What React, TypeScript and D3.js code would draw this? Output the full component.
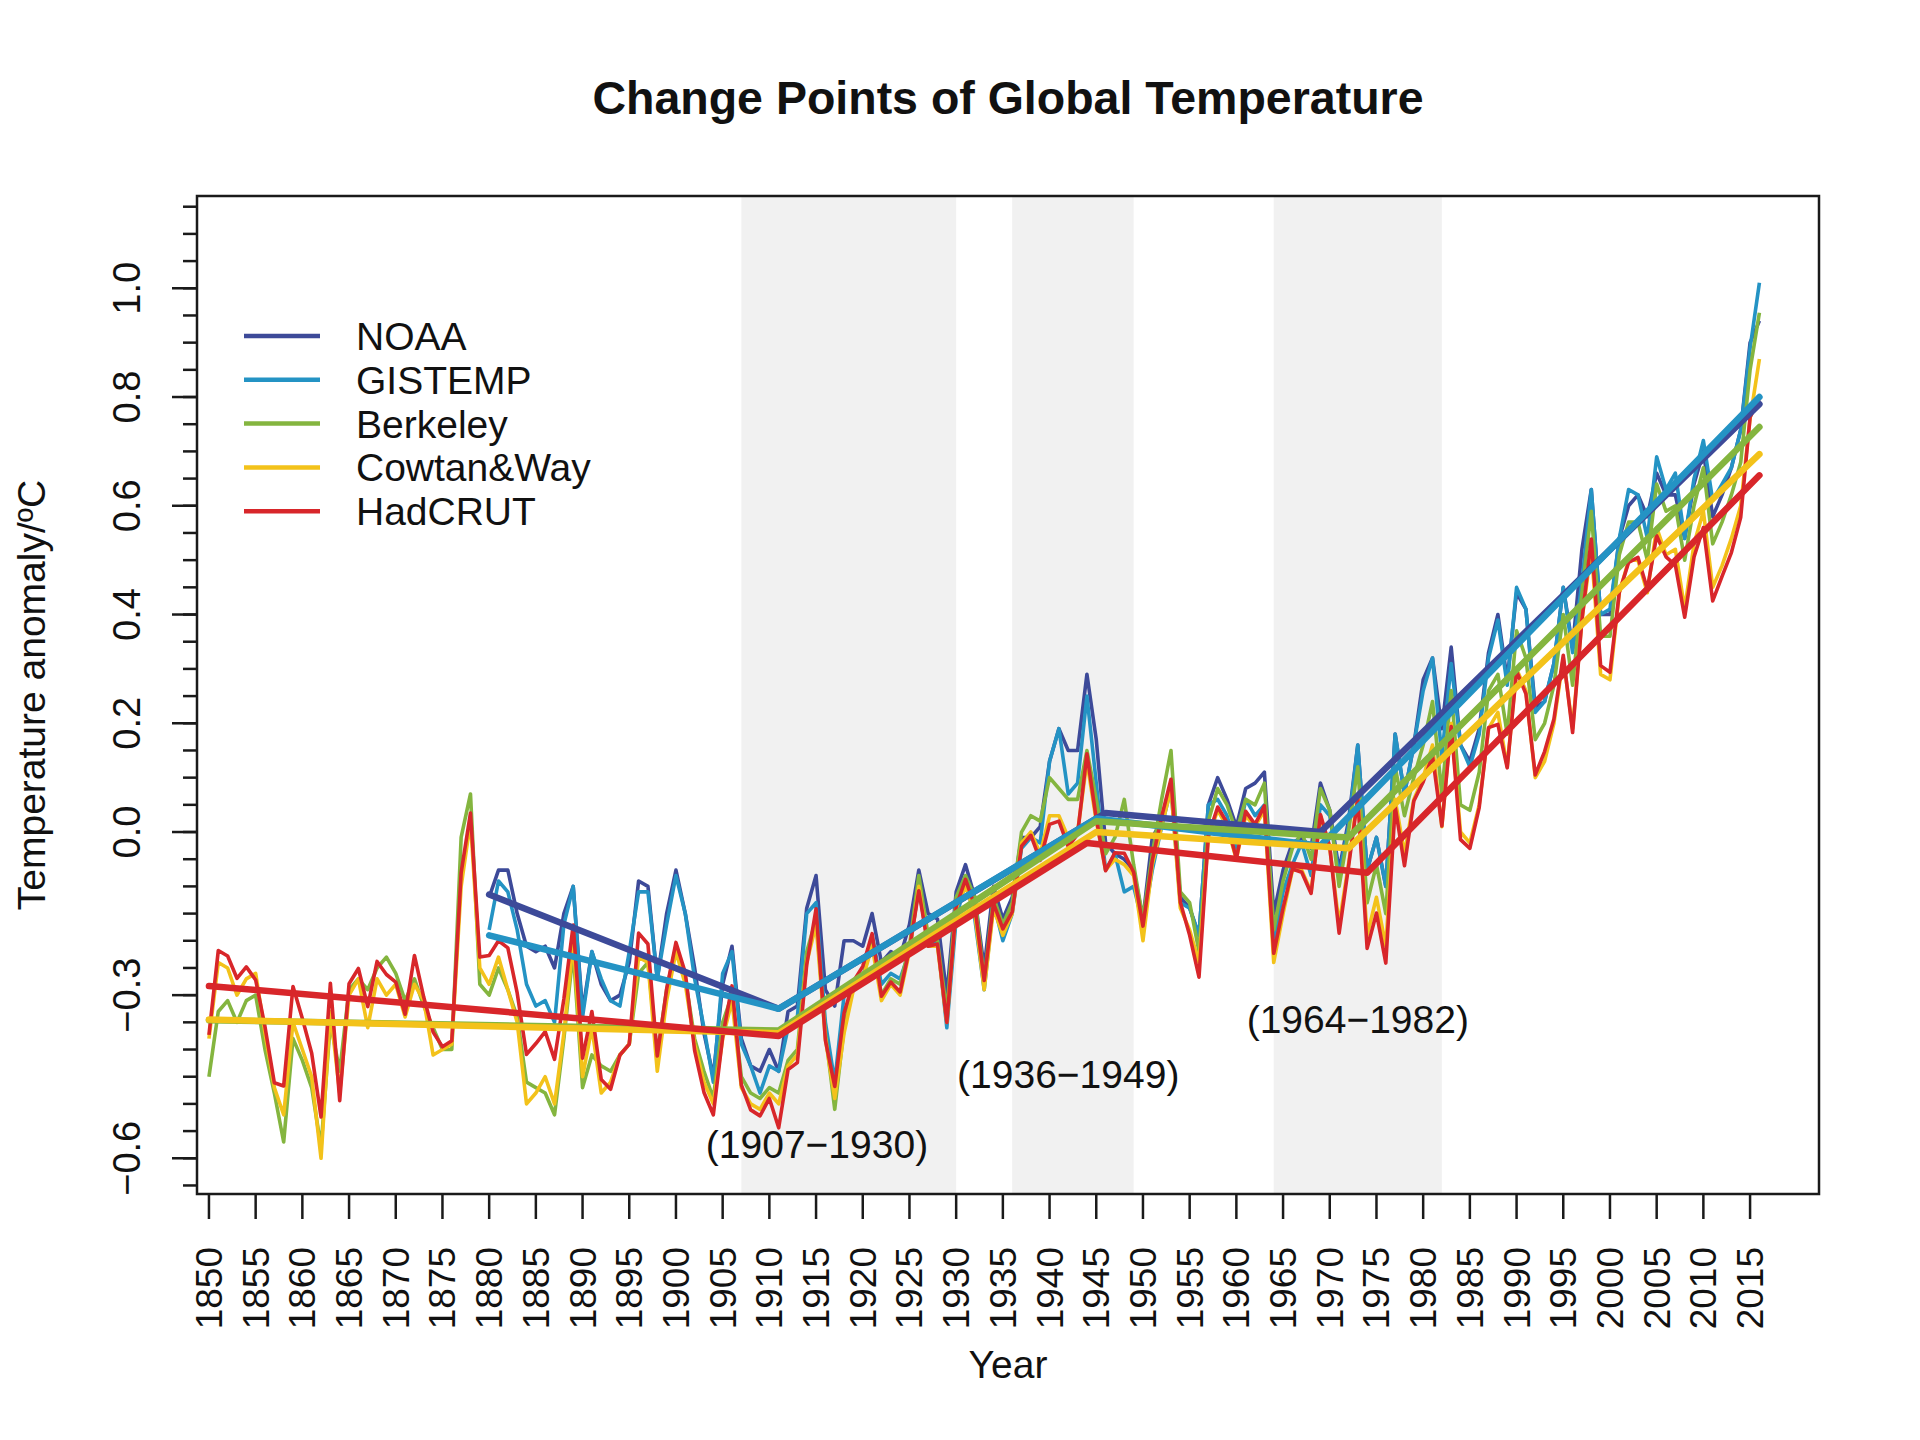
import { useEffect, useRef } from 'react';
import * as d3 from 'd3';

// annual anomalies, one row per decade
const hadcrut = [
  -0.373, -0.218, -0.228, -0.269, -0.248, -0.272, -0.358, -0.461, -0.467, -0.284,
  -0.343, -0.407, -0.524, -0.278, -0.494, -0.279, -0.251, -0.321, -0.238, -0.262,
  -0.276, -0.335, -0.227, -0.304, -0.368, -0.395, -0.384, -0.075, 0.035, -0.23,
  -0.227, -0.2, -0.213, -0.296, -0.409, -0.389, -0.367, -0.418, -0.307, -0.171,
  -0.416, -0.33, -0.455, -0.473, -0.41, -0.39, -0.186, -0.206, -0.412, -0.289,
  -0.203, -0.259, -0.402, -0.479, -0.52, -0.377, -0.283, -0.465, -0.511, -0.522,
  -0.49, -0.544, -0.437, -0.424, -0.244, -0.141, -0.383, -0.468, -0.333, -0.275,
  -0.247, -0.187, -0.302, -0.276, -0.294, -0.215, -0.108, -0.21, -0.206, -0.35,
  -0.137, -0.087, -0.137, -0.273, -0.131, -0.178, -0.147, -0.026, -0.006, -0.052,
  0.014, 0.02, -0.027, -0.004, 0.144, 0.025, -0.071, -0.038, -0.039, -0.074,
  -0.173, -0.052, 0.028, 0.097, -0.129, -0.19, -0.267, -0.007, 0.046, 0.017,
  -0.049, 0.038, 0.014, 0.048, -0.223, -0.14, -0.068, -0.074, -0.113, 0.032,
  -0.027, -0.186, -0.065, 0.062, -0.214, -0.149, -0.241, 0.047, -0.062, 0.057,
  0.092, 0.14, 0.011, 0.194, -0.014, -0.03, 0.045, 0.192, 0.198, 0.118,
  0.296, 0.254, 0.105, 0.148, 0.208, 0.325, 0.183, 0.39, 0.539, 0.306,
  0.294, 0.441, 0.496, 0.505, 0.447, 0.545, 0.506, 0.491, 0.395, 0.506,
  0.56, 0.425, 0.47, 0.514, 0.579, 0.763, 0.797,
];

const cowtanWay = [
  -0.38, -0.24, -0.25, -0.3, -0.27, -0.26, -0.37, -0.47, -0.52, -0.35,
  -0.4, -0.45, -0.6, -0.33, -0.48, -0.3, -0.27, -0.36, -0.27, -0.3,
  -0.28, -0.34, -0.28, -0.31, -0.41, -0.4, -0.39, -0.1, 0.02, -0.25,
  -0.28, -0.23, -0.29, -0.35, -0.5, -0.48, -0.45, -0.5, -0.37, -0.2,
  -0.45, -0.36, -0.48, -0.46, -0.41, -0.39, -0.23, -0.24, -0.44, -0.31,
  -0.22, -0.28, -0.39, -0.46, -0.5, -0.38, -0.31, -0.47, -0.5, -0.51,
  -0.48, -0.5, -0.43, -0.41, -0.24, -0.17, -0.38, -0.49, -0.37, -0.29,
  -0.27, -0.21, -0.31, -0.28, -0.3, -0.22, -0.1, -0.21, -0.21, -0.35,
  -0.14, -0.1, -0.15, -0.29, -0.14, -0.19, -0.15, -0.02, 0.0, -0.04,
  0.03, 0.03, -0.01, 0.0, 0.13, 0.02, -0.07, -0.05, -0.06, -0.08,
  -0.2, -0.06, 0.01, 0.08, -0.14, -0.18, -0.24, -0.01, 0.04, 0.01,
  -0.05, 0.03, 0.01, 0.04, -0.24, -0.15, -0.07, -0.07, -0.11, 0.03,
  -0.03, -0.17, -0.06, 0.07, -0.19, -0.12, -0.21, 0.06, -0.04, 0.06,
  0.1, 0.16, 0.01, 0.2, 0.0, -0.02, 0.05, 0.19, 0.22, 0.12,
  0.3, 0.26, 0.1, 0.13, 0.2, 0.32, 0.19, 0.39, 0.52, 0.29,
  0.28, 0.44, 0.5, 0.5, 0.44, 0.56, 0.51, 0.52, 0.41, 0.53,
  0.59, 0.45, 0.49, 0.54, 0.6, 0.76, 0.87,
];

const berkeley = [
  -0.45, -0.33, -0.31, -0.35, -0.31, -0.3, -0.4, -0.48, -0.57, -0.38,
  -0.42, -0.47, -0.58, -0.35, -0.44, -0.29, -0.27, -0.29, -0.25, -0.23,
  -0.26, -0.31, -0.27, -0.32, -0.36, -0.4, -0.4, -0.01, 0.07, -0.28,
  -0.3, -0.25, -0.29, -0.34, -0.46, -0.47, -0.48, -0.52, -0.38, -0.22,
  -0.47, -0.41, -0.43, -0.44, -0.41, -0.39, -0.26, -0.24, -0.41, -0.29,
  -0.21, -0.27, -0.38, -0.44, -0.49, -0.35, -0.3, -0.45, -0.48, -0.49,
  -0.47, -0.48, -0.42, -0.4, -0.22, -0.16, -0.37, -0.51, -0.36, -0.28,
  -0.27, -0.2, -0.3, -0.27, -0.28, -0.21, -0.08, -0.19, -0.2, -0.33,
  -0.12, -0.08, -0.12, -0.27, -0.12, -0.17, -0.13, 0.0, 0.03, 0.02,
  0.1, 0.08, 0.06, 0.06, 0.15, 0.06, -0.04, -0.01, 0.06, -0.06,
  -0.16, -0.04, 0.06, 0.15, -0.11, -0.13, -0.22, 0.02, 0.08, 0.05,
  0.0, 0.06, 0.05, 0.09, -0.18, -0.09, -0.03, 0.0, -0.05, 0.08,
  0.04, -0.1, 0.0, 0.12, -0.13, -0.06, -0.15, 0.12, 0.03, 0.1,
  0.16, 0.24, 0.07, 0.26, 0.05, 0.04, 0.11, 0.26, 0.29, 0.18,
  0.37, 0.32, 0.17, 0.2, 0.27, 0.4, 0.27, 0.44, 0.59, 0.36,
  0.36, 0.51, 0.57, 0.57, 0.5, 0.64, 0.59, 0.6, 0.5, 0.6,
  0.67, 0.53, 0.57, 0.62, 0.68, 0.85, 0.955,
];

// NOAA and GISTEMP begin in 1880
const noaa = [
  -0.12, -0.07, -0.07, -0.15, -0.21, -0.22, -0.21, -0.25, -0.15, -0.1,
  -0.33, -0.22, -0.28, -0.31, -0.3, -0.24, -0.09, -0.1, -0.27, -0.15,
  -0.07, -0.15, -0.25, -0.37, -0.45, -0.28, -0.21, -0.38, -0.43, -0.44,
  -0.4, -0.44, -0.33, -0.32, -0.14, -0.08, -0.29, -0.32, -0.2, -0.2,
  -0.21, -0.15, -0.24, -0.22, -0.23, -0.17, -0.07, -0.15, -0.16, -0.3,
  -0.11, -0.06, -0.12, -0.25, -0.1, -0.16, -0.12, -0.01, -0.01, 0.01,
  0.13, 0.19, 0.15, 0.15, 0.29, 0.17, -0.02, -0.04, -0.05, -0.07,
  -0.16, -0.01, 0.02, 0.09, -0.12, -0.14, -0.19, 0.05, 0.1, 0.06,
  0.01, 0.08, 0.09, 0.11, -0.15, -0.07, -0.02, -0.01, -0.03, 0.09,
  0.04, -0.07, 0.02, 0.16, -0.07, -0.01, -0.1, 0.18, 0.07, 0.16,
  0.28, 0.32, 0.19, 0.34, 0.16, 0.13, 0.19, 0.33, 0.4, 0.28,
  0.44, 0.41, 0.23, 0.24, 0.31, 0.45, 0.34, 0.52, 0.63, 0.4,
  0.4, 0.54, 0.6, 0.62, 0.58, 0.66, 0.62, 0.62, 0.54, 0.64,
  0.7, 0.58, 0.62, 0.67, 0.74, 0.9, 0.94,
];

const gistemp = [
  -0.18, -0.09, -0.11, -0.18, -0.28, -0.32, -0.31, -0.35, -0.17, -0.1,
  -0.34, -0.22, -0.27, -0.31, -0.32, -0.22, -0.11, -0.11, -0.27, -0.17,
  -0.08, -0.15, -0.27, -0.36, -0.46, -0.26, -0.22, -0.39, -0.43, -0.48,
  -0.43, -0.44, -0.36, -0.34, -0.15, -0.13, -0.35, -0.46, -0.3, -0.28,
  -0.27, -0.19, -0.28, -0.26, -0.27, -0.22, -0.1, -0.21, -0.2, -0.36,
  -0.16, -0.09, -0.16, -0.29, -0.13, -0.2, -0.15, -0.03, -0.01, -0.02,
  0.13, 0.19, 0.07, 0.09, 0.25, 0.09, -0.07, -0.04, -0.11, -0.1,
  -0.17, -0.07, 0.01, 0.08, -0.13, -0.14, -0.19, 0.05, 0.06, 0.03,
  -0.03, 0.06, 0.03, 0.05, -0.2, -0.11, -0.06, -0.02, -0.08, 0.05,
  0.03, -0.08, 0.01, 0.16, -0.07, -0.01, -0.1, 0.18, 0.07, 0.16,
  0.26, 0.32, 0.14, 0.31, 0.16, 0.12, 0.18, 0.32, 0.39, 0.27,
  0.45, 0.41, 0.22, 0.24, 0.31, 0.45, 0.33, 0.46, 0.63, 0.4,
  0.41, 0.54, 0.63, 0.62, 0.54, 0.69, 0.63, 0.66, 0.54, 0.65,
  0.72, 0.61, 0.64, 0.67, 0.74, 0.89, 1.01,
];

// fitted piecewise-linear trends: [year, anomaly] at the change points
const noaaTrend: [number, number][] = [[1880, -0.115], [1911, -0.325], [1946, 0.035], [1969, 0.0], [2016, 0.787]];
const gistempTrend: [number, number][] = [[1880, -0.19], [1911, -0.325], [1945, 0.025], [1969, -0.025], [2016, 0.8]];
const berkeleyTrend: [number, number][] = [[1850, -0.346], [1911, -0.365], [1945, 0.02], [1972, -0.01], [2016, 0.745]];
const cowtanTrend: [number, number][] = [[1850, -0.345], [1911, -0.37], [1945, 0.0], [1972, -0.03], [2016, 0.695]];
const hadcrutTrend: [number, number][] = [[1850, -0.283], [1911, -0.375], [1944, -0.02], [1974, -0.075], [2016, 0.656]];

const seriesNames = ['NOAA', 'GISTEMP', 'Berkeley', 'Cowtan&Way', 'HadCRUT'];
const seriesColors = ['#3d4a99', '#2493c4', '#84b53f', '#f3c21a', '#d8262a'];
const seriesStart = [1880, 1880, 1850, 1850, 1850];
const seriesValues = [noaa, gistemp, berkeley, cowtanWay, hadcrut];
const seriesTrends = [noaaTrend, gistempTrend, berkeleyTrend, cowtanTrend, hadcrutTrend];

const periods: [number, number][] = [[1907, 1930], [1936, 1949], [1964, 1982]];
// where each period label sits, in data units
const periodLabelAt: [number, number][] = [[1915.1, -0.6], [1942.0, -0.47], [1973.0, -0.37]];

const yearTicks = d3.range(1850, 2016, 5);
const yMajorTicks = [-0.6, -0.3, 0.0, 0.2, 0.4, 0.6, 0.8, 1.0];
const yMinorTicks = d3.range(-13, 24).map((i) => i * 0.05);

const FONT = '"Liberation Sans", Arial, Helvetica, sans-serif';

export default function App() {
  const svgRef = useRef<SVGSVGElement>(null);

  useEffect(() => {
    if (!svgRef.current) return;
    const svg = d3.select(svgRef.current);
    svg.selectAll('*').remove();

    const left = 197, right = 1819, top = 196, bottom = 1194;
    const x = d3.scaleLinear().domain([1848.72, 2022.38]).range([left, right]);
    const y = d3.scaleLinear().domain([-0.6657, 1.1697]).range([bottom, top]);

    svg.append('rect').attr('width', 1920).attr('height', 1440).attr('fill', '#fff');

    // shaded change-point periods
    svg
      .selectAll('.period')
      .data(periods)
      .enter()
      .append('rect')
      .attr('x', (d) => x(d[0]))
      .attr('y', top)
      .attr('width', (d) => x(d[1]) - x(d[0]))
      .attr('height', bottom - top)
      .attr('fill', '#f1f1f1');

    const clip = svg.append('defs').append('clipPath').attr('id', 'plot-clip');
    clip.append('rect').attr('x', left).attr('y', top).attr('width', right - left).attr('height', bottom - top);

    const plot = svg.append('g').attr('clip-path', 'url(#plot-clip)');

    const line = d3
      .line<[number, number]>()
      .x((d) => x(d[0]))
      .y((d) => y(d[1]));

    // raw annual series
    seriesValues.forEach((vals, i) => {
      const pts = vals.map((v, k) => [seriesStart[i] + k, v] as [number, number]);
      plot
        .append('path')
        .attr('d', line(pts))
        .attr('fill', 'none')
        .attr('stroke', seriesColors[i])
        .attr('stroke-width', 3.6)
        .attr('stroke-linejoin', 'round');
    });

    // trend lines
    seriesTrends.forEach((tr, i) => {
      plot
        .append('path')
        .attr('d', line(tr))
        .attr('fill', 'none')
        .attr('stroke', seriesColors[i])
        .attr('stroke-width', 6.5)
        .attr('stroke-linejoin', 'round')
        .attr('stroke-linecap', 'round');
    });

    // period labels
    svg
      .selectAll('.plabel')
      .data(periods)
      .enter()
      .append('text')
      .attr('x', (_d, i) => x(periodLabelAt[i][0]))
      .attr('y', (_d, i) => y(periodLabelAt[i][1]))
      .attr('text-anchor', 'middle')
      .attr('font-family', FONT)
      .attr('font-size', 39)
      .attr('fill', '#111')
      .text((d) => `(${d[0]}\u2212${d[1]})`);

    // frame
    svg
      .append('rect')
      .attr('x', left)
      .attr('y', top)
      .attr('width', right - left)
      .attr('height', bottom - top)
      .attr('fill', 'none')
      .attr('stroke', '#1a1a1a')
      .attr('stroke-width', 2.5);

    // x axis ticks and labels
    const xg = svg.append('g');
    xg.selectAll('line')
      .data(yearTicks)
      .enter()
      .append('line')
      .attr('x1', (d) => x(d))
      .attr('x2', (d) => x(d))
      .attr('y1', bottom)
      .attr('y2', bottom + 25)
      .attr('stroke', '#1a1a1a')
      .attr('stroke-width', 2.5);
    xg.selectAll('text')
      .data(yearTicks)
      .enter()
      .append('text')
      .attr('transform', (d) => `translate(${x(d) + 13},${bottom + 53}) rotate(-90)`)
      .attr('text-anchor', 'end')
      .attr('font-family', FONT)
      .attr('font-size', 37)
      .attr('fill', '#111')
      .text((d) => String(d));

    // y axis ticks and labels
    const yg = svg.append('g');
    yg.selectAll('.minor')
      .data(yMinorTicks)
      .enter()
      .append('line')
      .attr('x1', left - 14)
      .attr('x2', left)
      .attr('y1', (d) => y(d))
      .attr('y2', (d) => y(d))
      .attr('stroke', '#1a1a1a')
      .attr('stroke-width', 2.5);
    yg.selectAll('.major')
      .data(yMajorTicks)
      .enter()
      .append('line')
      .attr('x1', left - 25)
      .attr('x2', left)
      .attr('y1', (d) => y(d))
      .attr('y2', (d) => y(d))
      .attr('stroke', '#1a1a1a')
      .attr('stroke-width', 2.5);
    yg.selectAll('text')
      .data(yMajorTicks)
      .enter()
      .append('text')
      .attr('transform', (d) => `translate(140,${y(d)}) rotate(-90)`)
      .attr('text-anchor', 'middle')
      .attr('font-family', FONT)
      .attr('font-size', 38)
      .attr('fill', '#111')
      .text((d) => d3.format('.1f')(d).replace('-', '\u2212'));

    // axis titles and main title
    svg
      .append('text')
      .attr('x', 1008)
      .attr('y', 114)
      .attr('text-anchor', 'middle')
      .attr('font-family', FONT)
      .attr('font-weight', 'bold')
      .attr('font-size', 46.5)
      .attr('fill', '#111')
      .text('Change Points of Global Temperature');

    svg
      .append('text')
      .attr('x', 1008)
      .attr('y', 1378)
      .attr('text-anchor', 'middle')
      .attr('font-family', FONT)
      .attr('font-size', 39)
      .attr('fill', '#111')
      .text('Year');

    svg
      .append('text')
      .attr('transform', 'translate(45,695) rotate(-90)')
      .attr('text-anchor', 'middle')
      .attr('font-family', FONT)
      .attr('font-size', 39)
      .attr('fill', '#111')
      .text('Temperature anomaly/\u00baC');

    // legend
    const lg = svg.append('g');
    seriesNames.forEach((name, i) => {
      const ly = 336 + i * 43.8;
      lg.append('line')
        .attr('x1', 244)
        .attr('x2', 320)
        .attr('y1', ly)
        .attr('y2', ly)
        .attr('stroke', seriesColors[i])
        .attr('stroke-width', 4.5);
      lg.append('text')
        .attr('x', 356)
        .attr('y', ly + 14)
        .attr('font-family', FONT)
        .attr('font-size', 39)
        .attr('fill', '#111')
        .text(name);
    });
  }, []);

  return (
    <svg
      ref={svgRef}
      width={1920}
      height={1440}
      style={{ position: 'absolute', left: 0, top: 0, display: 'block' }}
    />
  );
}
